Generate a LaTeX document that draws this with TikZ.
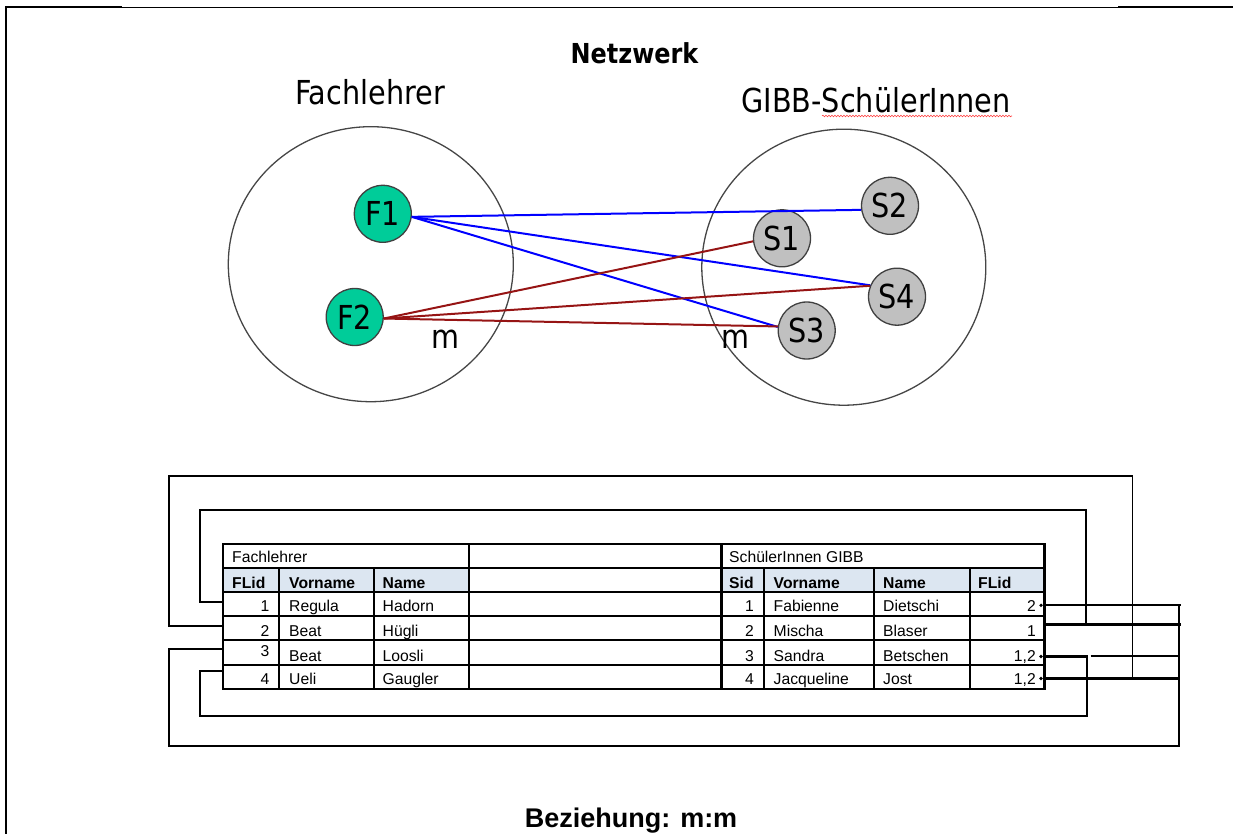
\documentclass[tikz,border=0pt]{standalone}
\usepackage{fontspec}
\setmainfont{Liberation Sans}
\newfontfamily\tah{DejaVu Sans}[FakeStretch=0.87]
\usetikzlibrary{shapes.geometric,decorations.pathmorphing}
\definecolor{fgreen}{RGB}{0,204,153}
\definecolor{sgray}{RGB}{192,192,192}
\definecolor{dred}{RGB}{150,20,20}
\definecolor{hdr}{RGB}{220,230,241}
\definecolor{ringc}{RGB}{70,70,70}
\begin{document}
\begin{tikzpicture}[x=1pt,y=-1pt,
  frame/.style={line width=2pt,black},
  ttl/.style={inner sep=0pt,font=\tah\bfseries\fontsize{27.5}{30}\selectfont},
  lbl/.style={inner sep=0pt,font=\tah\fontsize{33}{36}\selectfont},
  ring/.style={ellipse,draw=ringc,line width=1.3pt,inner sep=0pt},
  fnode/.style={circle,draw=black!75,line width=1.3pt,fill=fgreen,minimum size=57pt,inner sep=0pt,font=\tah\fontsize{33}{36}\selectfont},
  snode/.style={fnode,fill=sgray},
  bl/.style={line width=2pt,draw=blue},
  rd/.style={line width=2pt,draw=dred},
  grid/.style={line width=2.3pt,black},
  cw/.style={anchor=base west,inner sep=0pt,font=\fontsize{15.7}{18}\selectfont},
  ce/.style={anchor=base east,inner sep=0pt,font=\fontsize{15.7}{18}\selectfont},
  hw/.style={cw,font=\bfseries\fontsize{15.7}{18}\selectfont},
  conn/.style={line width=2.3pt,black},
  dot/.style={circle,fill=black,inner sep=0pt,minimum size=3.6pt}
]
\useasboundingbox (0,0) rectangle (1233,834);

% page frame
\draw[frame] (6,834) -- (6,7) -- (122,7);
\draw[line width=0.9pt] (122,7) -- (1118,7);
\draw[frame] (1118,7) -- (1233,7);

% titles
\node[ttl,anchor=base] (title) at (634.5,64) {Netzwerk};
\node[lbl,anchor=base] (lblF) at (370,105) {Fachlehrer};
\node[lbl,anchor=base] (lblS) at (876,113) {GIBB-SchülerInnen};
\draw[red!75,line width=0.6pt,decorate,decoration={snake,amplitude=0.8pt,segment length=3pt}] (822,116) -- (1012,116);

% groups
\node[ring,minimum width=285pt,minimum height=275pt] (G1) at (370.8,264.2) {};
\node[ring,minimum width=284pt,minimum height=276pt] (G2) at (843.8,267.2) {};

% entity nodes
\node[fnode] (F1) at (382.8,213.8) {F1};
\node[fnode] (F2) at (354.7,317) {F2};
\node[snode] (S1) at (782,238.3) {S1};
\node[snode] (S2) at (890,205.8) {S2};
\node[snode] (S3) at (806.7,330.5) {S3};
\node[snode] (S4) at (897,296.7) {S4};

% relations
\draw[bl] (F1.354) -- (S2.188);
\draw[bl] (F1.354) -- (S4.157);
\draw[bl] (F1.354) -- (S3.173);
\draw[rd] (F2.357) -- (S1.186);
\draw[rd] (F2.357) -- (S4.158);
\draw[rd] (F2.357) -- (S3.172);

\node[lbl] (m1) at (445,339) {m};
\node[lbl] (m2) at (735.5,339) {m};

% ---------- table ----------
\fill[hdr] (222.7,567.7) rectangle (469,591.7);
\fill[hdr] (721.5,567.7) rectangle (1044.5,591.7);
\draw[grid] (222.7,544) rectangle (1044.5,689.3);
\foreach \yy in {567.7,591.7,616,640.3,665}
  \draw[grid] (222.7,\yy) -- (1044.5,\yy);
\foreach \xx in {469,721.5}
  \draw[grid] (\xx,544) -- (\xx,689.3);
\foreach \xx in {279.3,374,764.2,874.2,969.9}
  \draw[grid] (\xx,567.7) -- (\xx,689.3);

% left table text
\node[cw] (tF) at (232,562.5) {Fachlehrer};
\node[hw] (hF1) at (232,588) {FLid};
\node[hw] (hF2) at (289,588) {Vorname};
\node[hw] (hF3) at (382.5,588) {Name};
\node[ce] (a1) at (269.5,611) {1};
\node[cw] (b1) at (289,611) {Regula};
\node[cw] (c1) at (382.5,611) {Hadorn};
\node[ce] (a2) at (269.5,636) {2};
\node[cw] (b2) at (289,636) {Beat};
\node[cw] (c2) at (382.5,636) {Hügli};
\node[ce] (a3) at (269.5,656) {3};
\node[cw] (b3) at (289,661.5) {Beat};
\node[cw] (c3) at (382.5,661.5) {Loosli};
\node[ce] (a4) at (269.5,684) {4};
\node[cw] (b4) at (289,684) {Ueli};
\node[cw] (c4) at (382.5,684) {Gaugler};

% right table text
\node[cw] (tS) at (729,562.5) {SchülerInnen GIBB};
\node[hw] (hS1) at (729,588) {Sid};
\node[hw] (hS2) at (773.5,588) {Vorname};
\node[hw] (hS3) at (883,588) {Name};
\node[hw] (hS4) at (978,588) {FLid};
\node[ce] (p1) at (754,611) {1};
\node[cw] (q1) at (773.5,611) {Fabienne};
\node[cw] (r1) at (883,611) {Dietschi};
\node[ce] (s1) at (1036,611) {2};
\node[ce] (p2) at (754,636) {2};
\node[cw] (q2) at (773.5,636) {Mischa};
\node[cw] (r2) at (883,636) {Blaser};
\node[ce] (s2) at (1036,636) {1};
\node[ce] (p3) at (754,661) {3};
\node[cw] (q3) at (773.5,661) {Sandra};
\node[cw] (r3) at (883,661) {Betschen};
\node[ce] (s3) at (1036,661) {1,2};
\node[ce] (p4) at (754,684) {4};
\node[cw] (q4) at (773.5,684) {Jacqueline};
\node[cw] (r4) at (883,684) {Jost};
\node[ce] (s4) at (1036,684) {1,2};

% connector ends
\coordinate (L1) at (222.7,601.7);
\coordinate (L2) at (222.7,625.7);
\coordinate (L3) at (222.7,649);
\coordinate (L4) at (222.7,670.7);
\node[dot] (R1) at (1041,605.3) {};
\coordinate (R2) at (1044.5,624.5);
\node[dot] (R3) at (1041,656.5) {};
\node[dot] (R4) at (1041,678.5) {};
\coordinate (E1) at (1181,605.3);
\coordinate (E2) at (1181,624.5);
\coordinate (E3) at (1179,655.7);
\coordinate (E4) at (1179,678.5);

% connectors
\draw[conn] (L1) -- (200,601.7) -- (200,510) -- (1086,510) -- (1086,624.5);
\draw[conn] (L2) -- (169,625.7) -- (169,475.7) -- (1132.7,475.7);
\draw[line width=1.5pt] (1132.7,475.7) -- (1132.7,678.5);
\draw[conn] (L3) -- (169,649) -- (169,745.7) -- (1179,745.7) -- (1179,605.3);
\draw[conn] (L4) -- (200,670.7) -- (200,715.7) -- (1087,715.7) -- (1087,656.5) -- (R3);
\draw[conn] (R1) -- (E1);
\draw[conn] (R2) -- (E2);
\draw[conn] (1090.5,655.7) -- (E3);
\draw[conn] (R4) -- (E4);

% caption
\node[anchor=base,inner sep=0pt,font=\bfseries\fontsize{27}{30}\selectfont] (cap) at (631,827.5) {Beziehung: m:m};
\end{tikzpicture}
\end{document}
